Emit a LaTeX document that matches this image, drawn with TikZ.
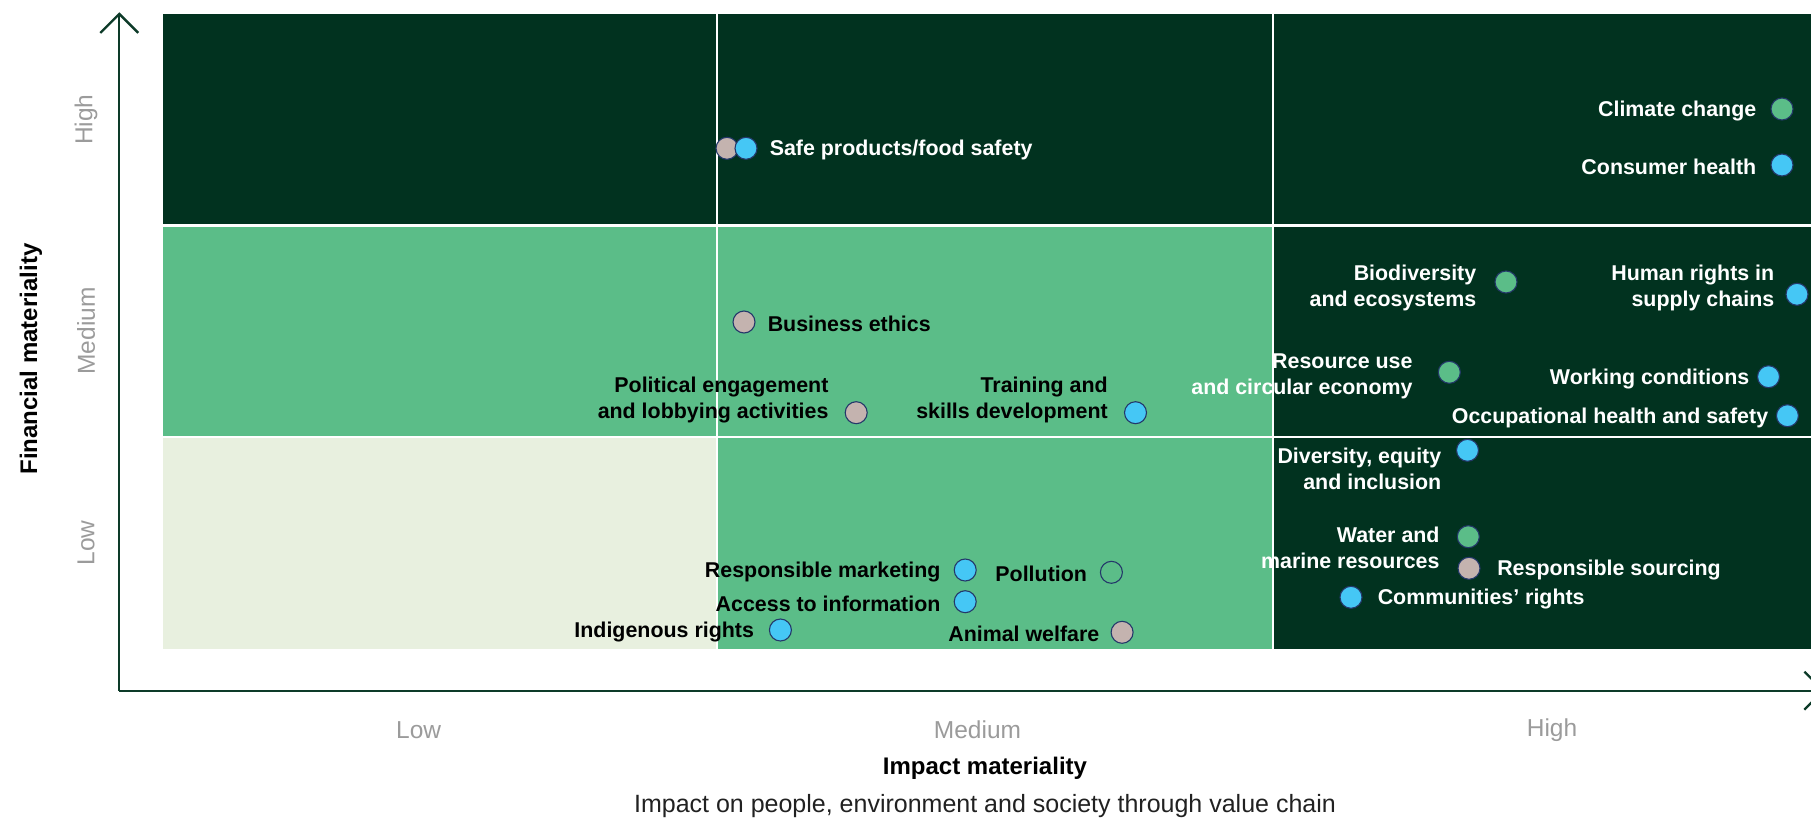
\documentclass[tikz,border=0pt]{standalone}
\usepackage{fontspec}
\setmainfont{Liberation Sans}
\usetikzlibrary{positioning,arrows.meta}

\definecolor{darkcell}{HTML}{01321F}
\definecolor{midcell}{HTML}{5BBD88}
\definecolor{lightcell}{HTML}{E8F0DF}
\definecolor{axisgreen}{HTML}{0D3B29}
\definecolor{lvlgrey}{HTML}{9B9B9B}
\definecolor{dotblue}{HTML}{45C7F5}
\definecolor{dotgrey}{HTML}{C4B3AF}
\definecolor{dotgreen}{HTML}{5BBD88}
\definecolor{dotline}{HTML}{24386A}

\tikzset{
	mdot/.style={circle, minimum size=22pt, inner sep=0pt, draw=dotline, line width=1.1pt},
	bluedot/.style={mdot, fill=dotblue},
	greydot/.style={mdot, fill=dotgrey},
	greendot/.style={mdot, fill=dotgreen},
	opendot/.style={mdot},
	topic/.style={inner sep=0pt, align=right, yshift=-2pt, font=\bfseries\fontsize{21.4}{26}\selectfont},
	ondark/.style={topic, text=white},
	onmid/.style={topic, text=black},
	lvl/.style={inner sep=0pt, text=lvlgrey, font=\fontsize{24.5}{28}\selectfont},
	axistitle/.style={inner sep=0pt, font=\bfseries\fontsize{24}{28}\selectfont},
	axisline/.style={draw=axisgreen, line width=2.3pt, -{Straight Barb[length=19pt, width=38pt]}},
	cellgap/.style={draw=white, line width=2.6pt}
}

\begin{document}
\begin{tikzpicture}[x=1pt, y=-1pt]
	\useasboundingbox (0,0) rectangle (1811,819);
	%\draw[help lines] (0,0) grid (1811,819);

	% cells
	\fill[darkcell] (162.5,14) rectangle (1830,225.5);
	\fill[midcell] (162.5,225.5) rectangle (1273,437);
	\fill[lightcell] (162.5,437) rectangle (717,649);
	\fill[midcell] (717,437) rectangle (1273,649);
	\fill[darkcell] (1273,225.5) rectangle (1830,649);

	\draw[cellgap] (717,14) -- (717,649);
	\draw[cellgap] (1273,14) -- (1273,649);
	\draw[cellgap] (162.5,225.5) -- (1830,225.5);
	\draw[cellgap] (162.5,437) -- (1830,437);

	% axes
	\coordinate (origin) at (119.3,690.7);
	\coordinate (ytop) at (119.3,12.3);
	\coordinate (xend) at (1825,690.7);
	\draw[axisline] (origin) -- (ytop);
	\draw[axisline] (origin) -- (xend);

	\node[lvl] (xlow) at (418.6,730) {Low};
	\node[lvl] (xmed) at (977.5,730) {Medium};
	\node[lvl] (xhigh) at (1552,730) {High};
	\node[lvl, rotate=90] (yhigh) at (86,119.6) {High};
	\node[lvl, rotate=90] (ymed) at (86,331) {Medium};
	\node[lvl, rotate=90] (ylow) at (86,543) {Low};

	\node[axistitle, rotate=90] (ytitle) at (31,359) {Financial materiality};
	\node[axistitle] (xtitle) at (985,768) {Impact materiality};
	\node[inner sep=0pt, text=black!87, font=\fontsize{25}{28}\selectfont] (xsub) at (985,806)
		{Impact on people, environment and society through value chain};

	% high financial
	\node[greydot] (safeG) at (727,148.3) {};
	\node[bluedot] (safeB) at (746,148.3) {};
	\node[ondark, right=12pt of safeB] (safetxt) {Safe products/food safety};

	\node[greendot] (climate) at (1782,109) {};
	\node[ondark, left=14pt of climate] (climatetxt) {Climate change};
	\node[bluedot] (consumer) at (1782,165) {};
	\node[ondark, left=14pt of consumer] (consumertxt) {Consumer health};

	% medium financial
	\node[greendot] (bio) at (1506,282) {};
	\node[ondark, left=18pt of bio, yshift=-3.5pt] (biotxt) {Biodiversity\\and ecosystems};
	\node[bluedot] (human) at (1797,294.3) {};
	\node[ondark, left=11pt of human, yshift=8pt] (humantxt) {Human rights in\\supply chains};

	\node[greydot] (ethics) at (744,322) {};
	\node[onmid, right=12pt of ethics] (ethicstxt) {Business ethics};

	\node[greendot] (resource) at (1449.3,372.3) {};
	\node[ondark, left=25pt of resource, yshift=-2pt] (resourcetxt) {Resource use\\and circular economy};
	\node[bluedot] (working) at (1768.5,376.7) {};
	\node[ondark, left=7.5pt of working] (workingtxt) {Working conditions};

	\node[greydot] (political) at (856.2,412.7) {};
	\node[onmid, left=16pt of political, yshift=15pt] (politicaltxt) {Political engagement\\and lobbying activities};
	\node[bluedot] (training) at (1135.5,412.7) {};
	\node[onmid, left=16pt of training, yshift=15pt] (trainingtxt) {Training and\\skills development};
	\node[bluedot] (occupational) at (1787.4,415.7) {};
	\node[ondark, left=7.5pt of occupational] (occupationaltxt) {Occupational health and safety};

	% low financial
	\node[bluedot] (diversity) at (1467.5,450.3) {};
	\node[ondark, left=14.5pt of diversity, yshift=-17pt] (diversitytxt) {Diversity, equity\\and inclusion};

	\node[greendot] (water) at (1468.3,536.7) {};
	\node[ondark, left=17pt of water, yshift=-9pt] (watertxt) {Water and\\marine resources};
	\node[greydot] (sourcing) at (1469,568.3) {};
	\node[ondark, right=16.5pt of sourcing] (sourcingtxt) {Responsible sourcing};
	\node[bluedot] (communities) at (1351,597.3) {};
	\node[ondark, right=15pt of communities] (communitiestxt) {Communities’ rights};

	\node[bluedot] (marketing) at (965.2,570) {};
	\node[onmid, left=13pt of marketing] (marketingtxt) {Responsible marketing};
	\node[opendot] (pollution) at (1111.4,572.3) {};
	\node[onmid, left=12.7pt of pollution] (pollutiontxt) {Pollution};
	\node[bluedot] (access) at (965.2,601.7) {};
	\node[onmid, left=13pt of access] (accesstxt) {Access to information};
	\node[bluedot] (indigenous) at (780.4,630) {};
	\node[onmid, left=14.7pt of indigenous] (indigenoustxt) {Indigenous rights};
	\node[greydot] (animal) at (1122.1,632.3) {};
	\node[onmid, left=11pt of animal] (animaltxt) {Animal welfare};
\end{tikzpicture}
\end{document}
